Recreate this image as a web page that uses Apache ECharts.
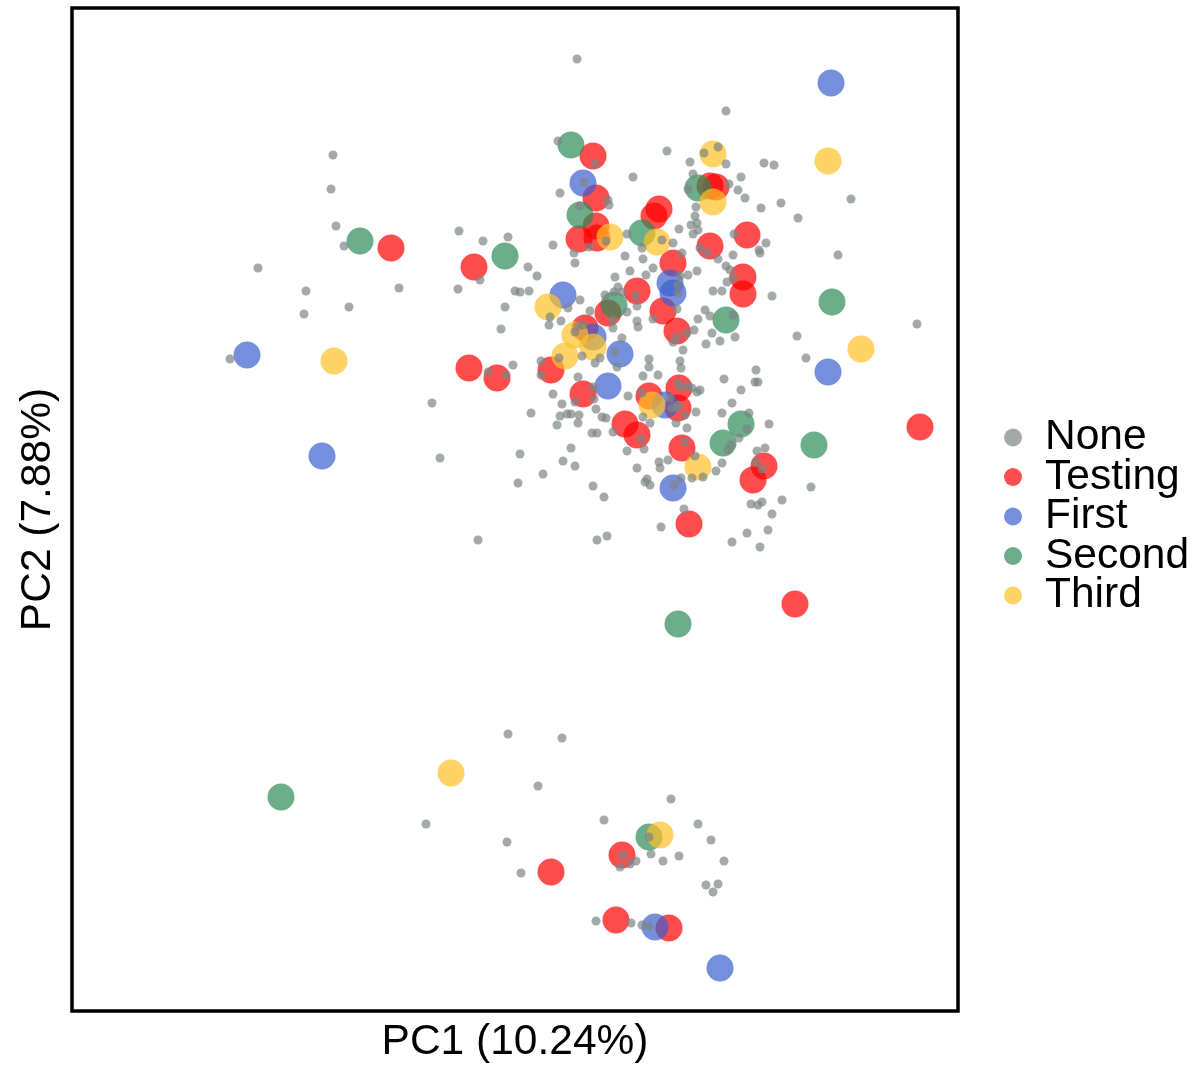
<!DOCTYPE html>
<html>
<head>
<meta charset="utf-8">
<title>PCA</title>
<script src="https://cdn.jsdelivr.net/npm/echarts@6/dist/echarts.min.js"></script>
<style>
    html, body { margin: 0; padding: 0; background: #fff; }
    #chart--pca { width: 1194px; height: 1065px; }
</style>
</head>
<body>
<div id="chart--pca"></div>
<script>
// group names, in legend order
const groupNames = ['None', 'Testing', 'First', 'Second', 'Third'];
const groupColors = ['#7d8585', '#ff0000', '#3a5fcd', '#2e8b57', '#ffc125'];

// scores, [PC1, PC2] in plot units (PC2 runs downward)
const nonePoints = [
    [333, 155], [331, 189], [336, 226], [344, 246], [258, 268], [459, 231], [483, 241], [508, 237], [480, 280],
    [577, 59], [558, 141], [595, 164], [667, 151], [690, 162], [693, 174], [688, 189], [633, 177], [560, 193],
    [584, 182], [608, 200], [609, 205], [580, 206], [696, 207], [695, 216], [691, 225], [697, 223], [693, 234],
    [679, 229], [553, 245], [627, 234], [606, 241], [589, 247], [662, 240], [673, 243],
    [726, 111], [718, 147], [704, 153], [726, 164], [764, 163], [774, 165], [741, 177], [729, 184], [738, 190],
    [745, 198], [781, 203], [761, 208], [798, 218], [851, 199], [698, 230], [734, 234], [766, 243], [759, 250],
    [574, 253], [575, 263], [528, 267], [537, 276], [458, 289], [515, 291], [520, 292], [529, 291], [505, 307],
    [501, 329], [580, 300], [568, 308], [590, 311], [550, 317], [549, 325], [561, 321], [578, 326], [583, 325],
    [575, 332], [613, 320], [615, 277], [605, 295], [614, 292], [618, 287], [582, 356], [559, 358], [600, 358],
    [595, 363], [541, 361], [513, 365], [488, 372], [506, 375], [541, 375], [578, 377], [553, 394], [593, 387],
    [594, 399], [575, 402], [562, 404], [432, 403], [531, 413], [617, 367], [615, 352],
    [625, 256], [643, 259], [642, 248], [630, 271], [646, 275], [653, 268], [622, 292], [636, 296], [680, 276],
    [688, 275], [697, 271], [682, 253], [700, 248], [707, 253], [718, 259], [733, 255], [760, 253], [726, 266],
    [730, 270], [727, 282], [733, 278], [713, 291], [722, 291], [772, 296], [678, 285], [678, 293], [677, 309],
    [637, 306], [627, 312], [705, 310], [710, 316], [698, 319], [733, 315], [653, 319], [637, 321], [638, 327],
    [613, 328], [694, 330], [687, 333], [712, 333], [720, 341], [735, 337], [706, 344], [677, 337], [673, 342],
    [683, 350], [622, 338], [797, 336], [649, 359], [649, 367], [680, 361], [681, 368], [643, 376], [658, 375],
    [678, 383], [681, 387], [688, 386], [692, 388], [700, 390], [697, 392], [724, 379], [741, 390], [756, 370],
    [755, 382], [758, 382], [628, 396], [642, 393], [670, 398], [677, 408], [732, 403], [722, 413], [696, 412],
    [643, 417],
    [838, 255], [806, 358], [917, 324], [811, 487], [782, 500],
    [560, 416], [567, 414], [571, 414], [579, 415], [596, 409], [602, 417], [606, 418], [578, 423], [557, 425],
    [592, 433], [597, 433], [613, 432], [520, 454], [440, 458], [571, 448], [563, 461], [575, 466], [543, 474],
    [518, 483], [593, 486], [604, 497], [478, 540], [597, 540], [607, 536],
    [627, 451], [644, 449], [650, 423], [641, 439], [672, 408], [678, 405], [676, 423], [685, 415], [687, 428],
    [685, 442], [659, 462], [660, 468], [668, 460], [637, 468], [647, 479], [645, 482], [650, 485], [695, 456],
    [681, 478], [674, 485], [692, 478], [703, 477], [716, 471], [722, 463], [749, 413], [747, 429], [739, 438],
    [728, 450], [731, 445], [769, 424], [757, 451], [765, 448], [756, 462], [762, 469], [751, 504], [758, 505],
    [762, 502], [772, 514], [768, 530], [747, 533], [732, 542], [760, 547], [684, 509], [661, 527],
    [306, 291], [304, 314], [349, 307], [399, 288], [230, 359],
    [508, 734], [562, 738], [538, 786], [426, 824], [507, 842], [521, 873], [604, 820], [671, 799], [698, 824],
    [711, 840], [724, 861], [649, 837], [623, 855], [636, 861], [630, 864], [620, 867], [651, 854], [663, 861],
    [679, 856], [706, 885], [718, 884], [713, 892], [596, 921], [631, 923], [642, 925], [649, 926]
];
const testingPoints = [
    [593, 156], [596, 198], [659, 209], [654, 216], [596, 226], [579, 239], [597, 238], [710, 186], [716, 187],
    [391, 248], [474, 267], [747, 235], [710, 246], [743, 277], [743, 294], [673, 263], [637, 291], [663, 311],
    [677, 331], [608, 313], [585, 328], [469, 368], [497, 378], [551, 370], [583, 394], [649, 396], [679, 388],
    [678, 408], [625, 424], [637, 435], [682, 448], [764, 466], [753, 480], [689, 524], [920, 427], [795, 604],
    [551, 872], [622, 855], [616, 920], [669, 928]
];
const firstPoints = [
    [831, 83], [583, 183], [563, 295], [670, 283], [673, 293], [593, 337], [247, 355], [620, 354], [608, 386],
    [828, 372], [322, 456], [673, 488], [665, 405], [655, 927], [720, 968]
];
const secondPoints = [
    [571, 145], [698, 188], [580, 215], [642, 233], [360, 241], [505, 256], [832, 302], [614, 305], [726, 320],
    [741, 424], [723, 443], [814, 445], [678, 624], [281, 797], [649, 837]
];
const thirdPoints = [
    [713, 154], [828, 161], [713, 202], [610, 237], [657, 242], [548, 307], [575, 335], [593, 347], [565, 356],
    [334, 361], [861, 349], [652, 405], [698, 467], [451, 773], [660, 835]
];
const groupPoints = [nonePoints, testingPoints, firstPoints, secondPoints, thirdPoints];

// plot box edges in the same units
const pc1Range = [72, 958];
const pc2Range = [8, 1011];

const fontFamily = '"Liberation Sans", Arial, sans-serif';

const chart = echarts.init(document.querySelector('#chart--pca'), null, { renderer: 'canvas' });

const series = groupNames.map((name, index) => {
    return {
        name,
        type: 'scatter',
        data: groupPoints[index],
        symbol: 'circle',
        symbolSize: index === 0 ? 9 : 27,
        z: index === 0 ? 3 : 2,
        itemStyle: {
            color: groupColors[index],
            opacity: 0.7
        },
        emphasis: { disabled: true },
        silent: true,
        animation: false
    };
});

chart.setOption({
    animation: false,
    backgroundColor: '#ffffff',
    grid: {
        left: pc1Range[0],
        right: 1194 - pc1Range[1],
        top: pc2Range[0],
        bottom: 1065 - pc2Range[1],
        outerBoundsMode: 'none',
        containLabel: false,
        show: true,
        borderColor: '#000000',
        borderWidth: 3.5,
        backgroundColor: 'transparent'
    },
    legend: {
        data: groupNames,
        orient: 'vertical',
        left: 1004,
        top: 416,
        padding: 0,
        icon: 'circle',
        itemWidth: 18,
        itemHeight: 18,
        itemGap: -3.5,
        textStyle: {
            fontFamily,
            fontSize: 42.5,
            color: '#000000',
            padding: [0, 0, 0, 18]
        }
    },
    xAxis: {
        type: 'value',
        min: pc1Range[0],
        max: pc1Range[1],
        name: 'PC1 (10.24%)',
        nameLocation: 'middle',
        nameGap: 10,
        nameTextStyle: {
            fontFamily,
            fontSize: 42.5,
            color: '#000000'
        },
        axisLine: { show: false },
        axisTick: { show: false },
        axisLabel: { show: false },
        splitLine: { show: false }
    },
    yAxis: {
        type: 'value',
        inverse: true,
        min: pc2Range[0],
        max: pc2Range[1],
        name: 'PC2 (7.88%)',
        nameLocation: 'middle',
        nameGap: 12,
        nameTextStyle: {
            fontFamily,
            fontSize: 42.5,
            color: '#000000'
        },
        axisLine: { show: false },
        axisTick: { show: false },
        axisLabel: { show: false },
        splitLine: { show: false }
    },
    series
});
</script>
</body>
</html>
